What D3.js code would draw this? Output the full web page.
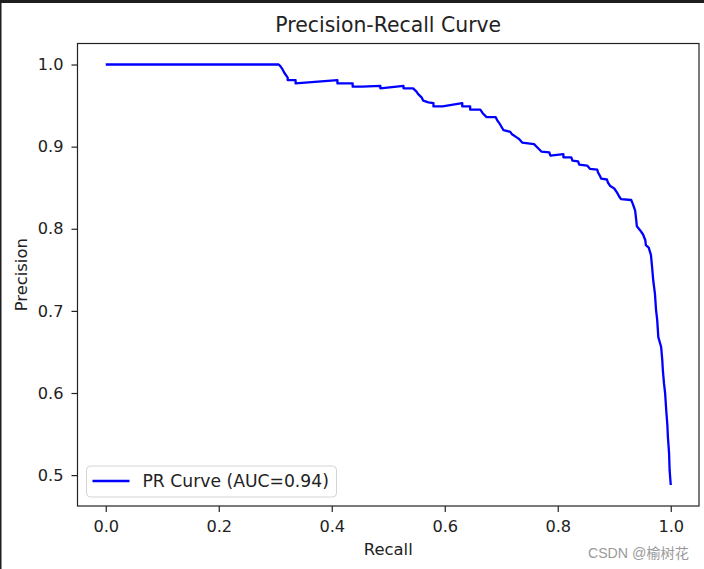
<!DOCTYPE html>
<html>
<head>
<meta charset="utf-8">
<script src="https://cdn.jsdelivr.net/npm/d3@7"></script>
<style>
  body { margin: 0; background: #fff; }
  svg { display: block; }
  text { font-family: "DejaVu Sans", sans-serif; fill: #222; }
</style>
</head>
<body>
<script>
// points (recall, precision)
const recall = [
  0, 0.306, 0.309, 0.313, 0.316, 0.322, 0.322, 0.336, 0.336, 0.410, 0.410, 0.437, 0.437, 0.454,
  0.486, 0.486, 0.527, 0.527, 0.544, 0.550, 0.553, 0.559, 0.562, 0.571, 0.580, 0.580, 0.596,
  0.631, 0.631, 0.645, 0.645, 0.663, 0.668, 0.674, 0.690, 0.693, 0.698, 0.704, 0.716, 0.719,
  0.728, 0.732, 0.737, 0.758, 0.764, 0.771, 0.785, 0.787, 0.810, 0.810, 0.824, 0.826, 0.836,
  0.838, 0.852, 0.857, 0.870, 0.871, 0.875, 0.877, 0.887, 0.889, 0.893, 0.900, 0.905, 0.909,
  0.912, 0.930, 0.933, 0.937, 0.939, 0.940, 0.946, 0.951, 0.955, 0.956, 0.961, 0.965, 0.967,
  0.969, 0.972, 0.974, 0.976, 0.978, 0.983, 0.985, 0.986, 0.988, 0.990, 0.992, 0.994, 0.995,
  0.997, 0.998, 1.000
];
const precision = [
  1.000, 1.000, 0.998, 0.994, 0.990, 0.984, 0.981, 0.981, 0.977, 0.981, 0.977, 0.977, 0.973, 0.973,
  0.974, 0.971, 0.974, 0.971, 0.971, 0.967, 0.964, 0.960, 0.956, 0.954, 0.953, 0.949, 0.949,
  0.953, 0.949, 0.949, 0.945, 0.945, 0.940, 0.936, 0.936, 0.932, 0.927, 0.920, 0.918, 0.915,
  0.911, 0.909, 0.905, 0.903, 0.899, 0.894, 0.893, 0.889, 0.891, 0.887, 0.887, 0.883, 0.882,
  0.878, 0.877, 0.873, 0.872, 0.869, 0.864, 0.861, 0.860, 0.856, 0.852, 0.849, 0.844, 0.839,
  0.836, 0.835, 0.830, 0.822, 0.810, 0.803, 0.798, 0.793, 0.786, 0.780, 0.777, 0.768, 0.753,
  0.737, 0.721, 0.701, 0.689, 0.668, 0.656, 0.640, 0.628, 0.612, 0.600, 0.579, 0.561, 0.546,
  0.527, 0.506, 0.488
];
const xTicks = [0, 0.2, 0.4, 0.6, 0.8, 1.0];
const yTicks = [0.5, 0.6, 0.7, 0.8, 0.9, 1.0];
const auc = 0.94;

const W = 704, H = 569;
const margin = { top: 43.5, right: 5, bottom: 63, left: 77.5 },
    width = W - margin.left - margin.right,
    height = H - margin.top - margin.bottom;

const svg = d3.select('body').append('svg')
    .attr('width', W)
    .attr('height', H);

// dark strip of the screenshot edge
svg.append('rect').attr('x', 0).attr('y', 0).attr('width', W).attr('height', 3).attr('fill', '#1e1e1e');
svg.append('rect').attr('x', 0).attr('y', 0).attr('width', 1.5).attr('height', H).attr('fill', '#1e1e1e');

const g = svg.append('g')
    .attr('transform', `translate(${margin.left}, ${margin.top})`);

const data = recall.map((r, i) => ({ r, p: precision[i] }));

// matplotlib style 5% margins
const xExt = d3.extent(recall), yExt = d3.extent(precision);
const xPad = (xExt[1] - xExt[0]) * 0.05, yPad = (yExt[1] - yExt[0]) * 0.05;
const x = d3.scaleLinear().domain([xExt[0] - xPad, xExt[1] + xPad]).range([0, width]);
const y = d3.scaleLinear().domain([yExt[0] - yPad, yExt[1] + yPad]).range([height, 0]);

const fmt = d3.format('.1f');
const xAxis = d3.axisBottom(x).tickValues(xTicks).tickFormat(fmt).tickSize(6).tickPadding(8).tickSizeOuter(0);
const yAxis = d3.axisLeft(y).tickValues(yTicks).tickFormat(fmt).tickSize(6).tickPadding(8).tickSizeOuter(0);

const gx = g.append('g').attr('transform', `translate(0, ${height})`).call(xAxis);
const gy = g.append('g').call(yAxis);
[gx, gy].forEach(a => {
    a.select('.domain').remove();
    a.selectAll('line').attr('stroke', '#222').attr('stroke-width', 1.2);
    a.selectAll('text').attr('font-size', 16.2).attr('fill', '#222')
        .style('font-family', '"DejaVu Sans", sans-serif');
});

// curve
g.append('path')
    .datum(data)
    .attr('fill', 'none')
    .attr('stroke', '#0000ff')
    .attr('stroke-width', 2.3)
    .attr('stroke-linejoin', 'round')
    .attr('d', d3.line().x(d => x(d.r)).y(d => y(d.p)));

// frame
g.append('rect')
    .attr('width', width).attr('height', height)
    .attr('fill', 'none').attr('stroke', '#222').attr('stroke-width', 1.2);

// Title
svg.append('text')
    .attr('x', margin.left + width / 2)
    .attr('y', 32)
    .attr('text-anchor', 'middle')
    .attr('font-size', 20.4)
    .text('Precision-Recall Curve');

// Axis labels
svg.append('text')
    .attr('x', margin.left + width / 2)
    .attr('y', 555)
    .attr('text-anchor', 'middle')
    .attr('font-size', 16.4)
    .text('Recall');

svg.append('text')
    .attr('transform', `translate(27, ${margin.top + height / 2}) rotate(-90)`)
    .attr('text-anchor', 'middle')
    .attr('font-size', 16.4)
    .text('Precision');

// Legend
const legend = g.append('g').attr('transform', `translate(${86.5 - margin.left}, ${466 - margin.top})`);
legend.append('rect')
    .attr('width', 250).attr('height', 31).attr('rx', 4)
    .attr('fill', 'white').attr('fill-opacity', 0.8)
    .attr('stroke', '#d4d4d4').attr('stroke-width', 1);
legend.append('line')
    .attr('x1', 6).attr('x2', 43).attr('y1', 15).attr('y2', 15)
    .attr('stroke', '#0000ff').attr('stroke-width', 2.3);
legend.append('text')
    .attr('x', 56).attr('y', 15).attr('dy', '0.36em')
    .attr('font-size', 17.2)
    .text(`PR Curve (AUC=${auc})`);

// watermark
svg.append('text')
    .attr('x', 689).attr('y', 558)
    .attr('text-anchor', 'end')
    .attr('font-size', 14.2)
    .style('font-family', '"Liberation Sans", "Noto Sans CJK SC", sans-serif')
    .style('fill', '#9a9a9a')
    .text('CSDN @榆树花');
</script>
</body>
</html>
